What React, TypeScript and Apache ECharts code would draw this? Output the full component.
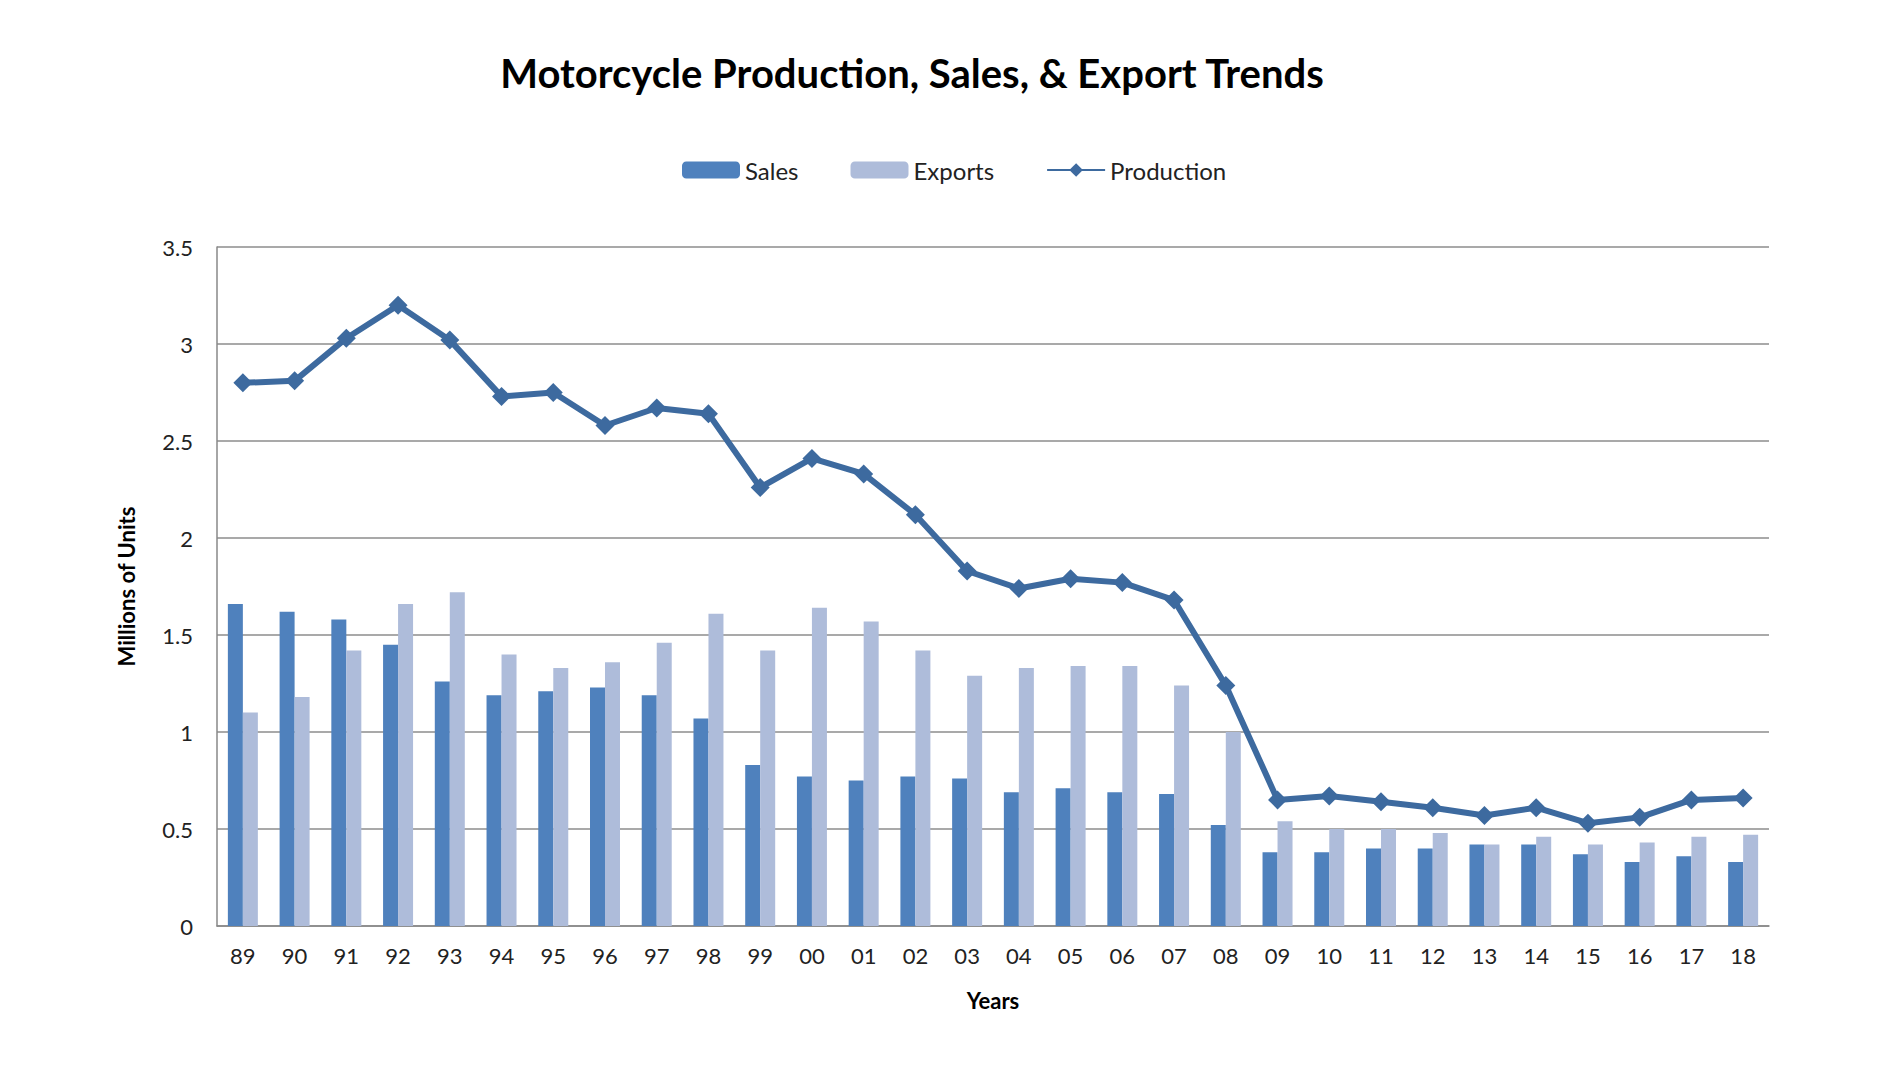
import React, { useEffect, useRef } from "react";
import * as echarts from "echarts";

const years = ["89","90","91","92","93","94","95","96","97","98","99","00","01","02","03","04","05","06","07","08","09","10","11","12","13","14","15","16","17","18"];
const sales = [1.66,1.62,1.58,1.45,1.26,1.19,1.21,1.23,1.19,1.07,0.83,0.77,0.75,0.77,0.76,0.69,0.71,0.69,0.68,0.52,0.38,0.38,0.40,0.40,0.42,0.42,0.37,0.33,0.36,0.33];
const exportsV = [1.10,1.18,1.42,1.66,1.72,1.40,1.33,1.36,1.46,1.61,1.42,1.64,1.57,1.42,1.29,1.33,1.34,1.34,1.24,1.00,0.54,0.50,0.50,0.48,0.42,0.46,0.42,0.43,0.46,0.47];
const production = [2.80,2.81,3.03,3.20,3.02,2.73,2.75,2.58,2.67,2.64,2.26,2.41,2.33,2.12,1.83,1.74,1.79,1.77,1.68,1.24,0.65,0.67,0.64,0.61,0.57,0.61,0.53,0.56,0.65,0.66];

const FONT = "Lato, 'Open Sans', sans-serif";

export default function App() {
  const ref = useRef<HTMLDivElement>(null);
  useEffect(() => {
    const chart = echarts.init(ref.current!, null, { renderer: "svg" });
    chart.setOption({
      animation: false,
      textStyle: { fontFamily: FONT },
      title: {
        text: "Motorcycle Production, Sales, & Export Trends",
        left: 907, top: 48, textAlign: "center",
        textStyle: { fontSize: 40, fontWeight: "bold", color: "#000", fontFamily: FONT },
      },
      legend: {
        top: 153, left: 677,
        itemWidth: 58, itemHeight: 17, itemGap: 52,
        textStyle: { fontSize: 24, color: "#222", fontFamily: FONT },
        data: ["Sales", "Exports", "Production"],
      },
      grid: { left: 217, right: 114, top: 247, bottom: 149 },
      xAxis: {
        type: "category", data: years,
        name: "Years", nameLocation: "middle", nameGap: 63,
        nameTextStyle: { fontSize: 22, fontWeight: "bold", color: "#000" },
        axisLine: { lineStyle: { color: "#888", width: 1.5 } },
        axisTick: { show: false },
        axisLabel: { fontSize: 22, color: "#222", margin: 18 },
      },
      yAxis: {
        type: "value", min: 0, max: 3.5, interval: 0.5,
        name: "Millions of Units", nameLocation: "middle", nameGap: 80, nameRotate: 90,
        nameTextStyle: { fontSize: 22, fontWeight: "bold", color: "#000" },
        axisLine: { show: true, lineStyle: { color: "#888", width: 1.5 } },
        axisLabel: { fontSize: 22, color: "#222", margin: 24 },
        splitLine: { lineStyle: { color: "#8c8c8c", width: 1.5 } },
      },
      series: [
        { name: "Sales", type: "bar", data: sales, barWidth: 15, barGap: "0%", itemStyle: { color: "#4F81BD" } },
        { name: "Exports", type: "bar", data: exportsV, barWidth: 15, itemStyle: { color: "#AEBCDA" } },
        {
          name: "Production", type: "line", data: production,
          symbol: "diamond", symbolSize: 19,
          lineStyle: { color: "#3D6A9F", width: 6 },
          itemStyle: { color: "#3D6A9F" },
        },
      ],
    });
    return () => chart.dispose();
  }, []);
  return <div ref={ref} style={{ position: "absolute", left: 0, top: 0, width: 1883, height: 1075, background: "#fff" }} />;
}
